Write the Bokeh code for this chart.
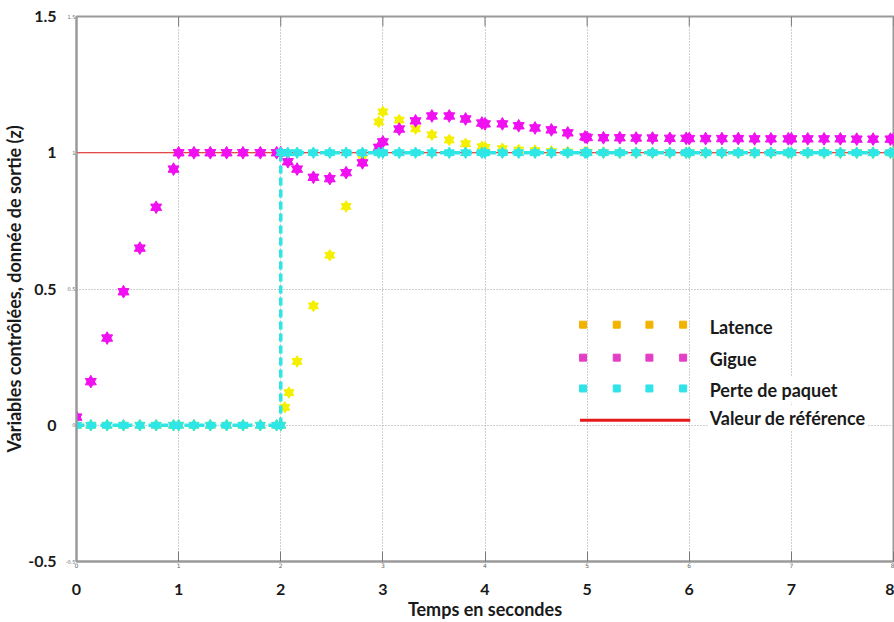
from bokeh.plotting import figure
from bokeh.models import Range1d, LinearAxis, FixedTicker, NumeralTickFormatter, ColumnDataSource
from bokeh.core.properties import value
from bokeh.embed import file_html
from bokeh.resources import INLINE

# ---------------- data ----------------
x_ticks = [0, 1, 2, 3, 4, 5, 6, 7, 8]
y_ticks = [-0.5, 0, 0.5, 1, 1.5]

t_start = [0.0, 0.14, 0.30, 0.46, 0.62, 0.78, 0.95, 1.0, 1.15, 1.31, 1.47, 1.63, 1.80, 1.96, 2.0]
t_mid = [2.16, 2.32, 2.48, 2.64, 2.80, 2.96, 3.0]
t_end = [3.16, 3.32, 3.48, 3.65, 3.81, 3.97, 4.0, 4.17, 4.33, 4.49, 4.65, 4.81, 4.98, 5.0,
         5.16, 5.32, 5.48, 5.64, 5.81, 5.97, 6.0, 6.16, 6.32, 6.48, 6.64, 6.80, 6.97, 7.0,
         7.16, 7.32, 7.48, 7.64, 7.80, 7.97, 8.0]

# Latence (yellow)
t_lat = t_start + [2.04, 2.08] + t_mid + t_end
latence = [0, 0, 0, 0, 0, 0, 0, 0, 0, 0, 0, 0, 0, 0, 0,
           0.066, 0.12,
           0.234, 0.438, 0.624, 0.803, 0.98, 1.113, 1.15,
           1.12, 1.088, 1.066, 1.047, 1.033, 1.022, 1.02, 1.015, 1.01, 1.008, 1.005, 1.003, 1.002, 1.002,
           1.001, 1.0, 1.0, 1.0, 1.0, 1.0, 1.0, 1.0, 1.0, 1.0, 1.0, 1.0, 1.0, 1.0, 1.0, 1.0, 1.0,
           1.0, 1.0, 1.0, 1.0]

# Gigue (magenta)
t_gig = t_start + [2.07] + t_mid + t_end
gigue = [0.03, 0.16, 0.32, 0.49, 0.65, 0.80, 0.94, 1.0, 1.0, 1.0, 1.0, 1.0, 1.0, 1.0, 1.0,
         0.967,
         0.94, 0.91, 0.905, 0.927, 0.963, 1.02, 1.04,
         1.087, 1.117, 1.135, 1.135, 1.124, 1.109, 1.106, 1.106, 1.099, 1.091, 1.084, 1.073, 1.058, 1.056,
         1.055, 1.055, 1.054, 1.054, 1.053, 1.053, 1.052, 1.052, 1.052, 1.052, 1.051, 1.051, 1.051,
         1.051, 1.051, 1.051, 1.051, 1.050, 1.050, 1.050, 1.050]

# Perte de paquet (cyan)
t_perte = t_start + [2.0, 2.07] + t_mid + t_end
perte = [0, 0, 0, 0, 0, 0, 0, 0, 0, 0, 0, 0, 0, 0, 0,
         1, 1,
         1, 1, 1, 1, 1, 1, 1,
         1, 1, 1, 1, 1, 1, 1, 1, 1, 1, 1, 1, 1, 1, 1, 1, 1, 1, 1, 1, 1, 1, 1, 1, 1, 1, 1, 1,
         1, 1, 1, 1, 1, 1, 1]

# Valeur de référence
ref_t = [0, 8]
ref_val = [1, 1]

legend_labels = ["Latence", "Gigue", "Perte de paquet", "Valeur de référence"]

# ---------------- styles / layout ----------------
C_LAT = "#f4f000"
C_GIG = "#f010f0"
C_PER = "#2ee6e6"
C_REF = "#e41a1a"
LEG_COLORS = ["#f2b300", "#e43ec6", "#2fe3ea"]
LEG_MARK_X = [4.96, 5.29, 5.61, 5.94]
LEG_ROW_Y = [0.369, 0.248, 0.135]
LEG_TEXT_X = 6.18
LEG_TEXT_Y = [0.362, 0.242, 0.131, 0.027]
LEG_LINE_X = [4.93, 6.01]
LEG_LINE_Y = 0.018
TOP_TICK_LEN = 0.036

FONT = "Lato"
DARK = "#1a1a1a"
GRAY = "#9a9a9a"

p = figure(width=894, height=622, x_range=Range1d(0, 8), y_range=Range1d(-0.5, 1.5),
           output_backend="svg", toolbar_location=None,
           min_border_left=70, min_border_right=1, min_border_top=16, min_border_bottom=40,
           background_fill_color="white", border_fill_color="white")
p.outline_line_color = GRAY
p.outline_line_width = 2

xt = FixedTicker(ticks=x_ticks)
yt = FixedTicker(ticks=y_ticks)

# inner (small) axes
xa = p.xaxis[0]
xa.ticker = xt
xa.major_label_text_font_size = "6px"
xa.major_label_text_color = "#666666"
xa.major_label_text_font = "DejaVu Sans"
xa.major_label_standoff = 1
xa.major_tick_in = 10
xa.major_tick_out = 0
xa.major_tick_line_color = "#777777"
xa.minor_tick_line_color = None
xa.axis_line_color = GRAY
xa.axis_line_width = 2

ya = p.yaxis[0]
ya.ticker = yt
ya.formatter = NumeralTickFormatter(format="0.[0]")
ya.major_label_text_font_size = "5px"
ya.major_label_text_color = "#666666"
ya.major_label_text_font = "DejaVu Sans"
ya.major_label_standoff = 1
ya.major_tick_in = 0
ya.major_tick_out = 0
ya.minor_tick_line_color = None
ya.axis_line_color = GRAY
ya.axis_line_width = 2

# outer (big bold) axes
xb = LinearAxis(ticker=xt, axis_label="Temps en secondes",
                major_label_text_font_size="16px", major_label_text_font_style="bold",
                major_label_text_font=FONT, major_label_text_color=DARK,
                major_label_standoff=7, axis_line_color=None, major_tick_line_color=None,
                minor_tick_line_color=None, axis_label_text_font=FONT,
                axis_label_text_font_size="18px", axis_label_text_font_style="bold",
                axis_label_text_color=DARK, axis_label_standoff=0)
p.add_layout(xb, "below")

yb = LinearAxis(ticker=yt, formatter=NumeralTickFormatter(format="0.[0]"),
                axis_label="Variables contrôlées, donnée de sortie (z)",
                major_label_text_font_size="16px", major_label_text_font_style="bold",
                major_label_text_font=FONT, major_label_text_color=DARK,
                major_label_standoff=0, axis_line_color=None, major_tick_line_color=None,
                minor_tick_line_color=None, axis_label_text_font=FONT,
                axis_label_text_font_size="18px", axis_label_text_font_style="bold",
                axis_label_text_color=DARK, axis_label_standoff=0)
p.add_layout(yb, "left")

# grids
p.xgrid.ticker = xt
p.ygrid.ticker = yt
for g in (p.xgrid, p.ygrid):
    g.grid_line_color = "#a0a0a0"
    g.grid_line_dash = "1 2"
    g.grid_line_width = 1

# top inward ticks (mirror of the x ticks)
p.segment(x0=x_ticks, y0=[y_ticks[-1]] * len(x_ticks), x1=x_ticks,
          y1=[y_ticks[-1] - TOP_TICK_LEN] * len(x_ticks), line_color="#777777", line_width=1)

# reference line
p.line(ref_t, ref_val, color=C_REF, line_width=1)

# series
src_lat = ColumnDataSource(dict(t=t_lat, v=latence))
src_gig = ColumnDataSource(dict(t=t_gig, v=gigue))
src_per = ColumnDataSource(dict(t=t_perte, v=perte))


def star(src, color, size):
    for m in ("triangle", "inverted_triangle"):
        p.scatter("t", "v", source=src, marker=m, size=size, fill_color=color,
                  line_color=color, line_width=1)


star(src_lat, C_LAT, 10)
star(src_gig, C_GIG, 11)
p.line("t", "v", source=src_per, line_color=C_PER, line_width=3.5, line_dash="8 4")
star(src_per, C_PER, 10)

# legend (drawn)
for color, ry in zip(LEG_COLORS, LEG_ROW_Y):
    p.scatter(LEG_MARK_X, [ry] * len(LEG_MARK_X), marker="square", size=7,
              fill_color=color, line_color=color)
p.line(LEG_LINE_X, [LEG_LINE_Y, LEG_LINE_Y], color=C_REF, line_width=3)
leg_src = ColumnDataSource(dict(x=[LEG_TEXT_X] * len(legend_labels), y=LEG_TEXT_Y, txt=legend_labels))
p.text("x", "y", text="txt", source=leg_src, text_font=value(FONT), text_font_style="bold",
       text_font_size="18px", text_color=DARK, text_baseline="middle", text_align="left",
       background_fill_color="white", padding=2)

open("out.html", "w").write(file_html(p, INLINE))
